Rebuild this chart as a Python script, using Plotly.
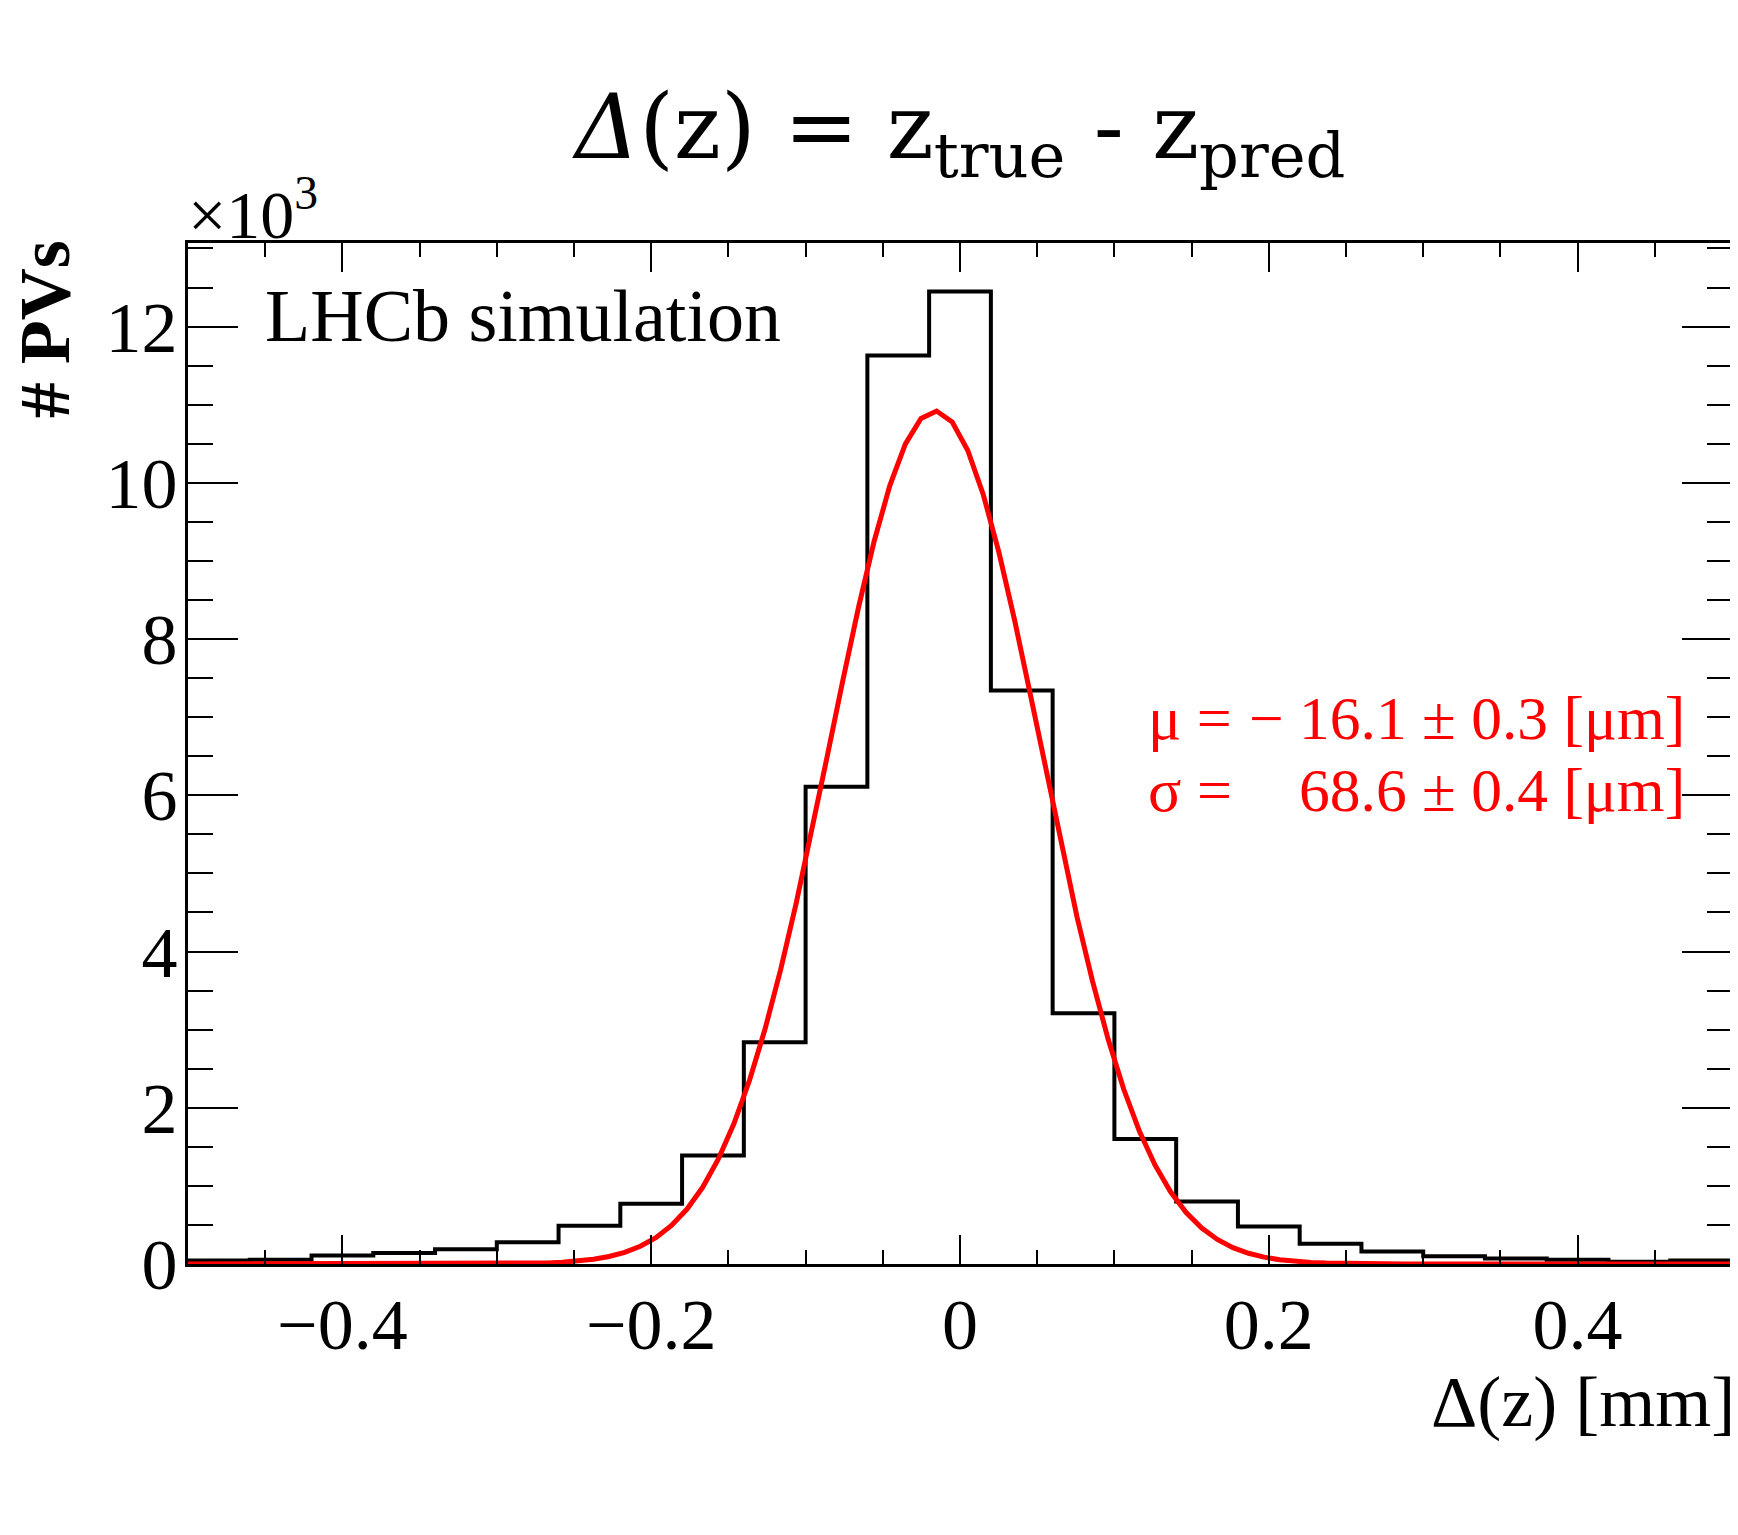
import numpy as np
import plotly.graph_objects as go

# ---------------- data ----------------
# histogram: 25 bins of width 0.04 mm from -0.5 to 0.5 (counts of PVs)
bin_edges_lo = -0.5
bin_width = 0.04
counts = [45, 55, 110, 140, 190, 280, 490, 770, 1390, 2840,
          6110, 11630, 12450, 7340, 3210, 1600, 800, 480, 260, 160,
          100, 70, 55, 30, 45]

# Gaussian fit curve, read at 100 equally spaced points over [-0.5, 0.5] (units of 10^3)
fit_values = [0.0] * 20 + [
    0.0024, 0.0043, 0.0076, 0.0131, 0.0223, 0.0370, 0.0601, 0.0956, 0.1488, 0.2267,
    0.3378, 0.4927, 0.7032, 0.9820, 1.3421, 1.7948, 2.3488, 3.0077, 3.7689, 4.6215,
    5.5455, 6.5114, 7.4816, 8.4120, 9.2552, 9.9646, 10.4982, 10.8232, 10.9190, 10.7793,
    10.4132, 9.8437, 9.1058, 8.2426, 7.3012, 6.3286, 5.3678, 4.4444, 3.6186, 2.8761,
    2.2368, 1.7023, 1.2678, 0.9239, 0.6589, 0.4598, 0.3140, 0.2098, 0.1372, 0.0878,
    0.0550, 0.0337, 0.0202, 0.0119, 0.0068, 0.0038, 0.0021] + [0.0] * 23
fit_x = np.linspace(-0.5, 0.5, 100)

x_ticks = [-0.4, -0.2, 0, 0.2, 0.4]
x_tick_labels = ["−0.4", "−0.2", "0", "0.2", "0.4"]
y_ticks = [0, 2, 4, 6, 8, 10, 12]
x_range = [-0.5, 0.5]
y_range = [0, 13.07]

title_text = "<i>Δ</i>(z) = z<sub>true</sub> - z<sub>pred</sub>"
x_title = "Δ(z) [mm]"
y_title = "# PVs"
label_text = "LHCb simulation"
exp_text = "×10<sup>3</sup>"
mu_lhs, mu_rhs = "μ =", "− 16.1 ± 0.3 [μm]"
sig_lhs, sig_rhs = "σ =", "68.6 ± 0.4 [μm]"

# ---------------- layout geometry (page pixels) ----------------
PAGE_W, PAGE_H = 1738, 1535
BODY = 8                            # default body margin of the html page
L, R, T, B = 188, 1735, 243, 1264   # plot frame in page pixels
FIG_W = PAGE_W - BODY
FIG_H = PAGE_H - 2 * BODY


def px(xp):
    return (xp - L) / (R - L)


def py(yp):
    return (B - yp) / (B - T)


edges = [bin_edges_lo + i * bin_width for i in range(len(counts) + 1)]
hist_y = [c / 1000 for c in counts] + [counts[-1] / 1000]

serif = "Liberation Serif"

fig = go.Figure()
fig.add_trace(go.Scatter(x=edges, y=hist_y, mode="lines", line=dict(shape="hv", color="black", width=4),
                         showlegend=False, hoverinfo="skip"))
fig.add_trace(go.Scatter(x=fit_x, y=fit_values, mode="lines", line=dict(color="#ff0000", width=5),
                         showlegend=False, hoverinfo="skip"))

axis_common = dict(showline=True, linecolor="black", linewidth=3, mirror="allticks",
                   ticks="inside", tickcolor="black", tickwidth=2, showgrid=False, zeroline=False,
                   tickfont=dict(family=serif, size=72, color="black"))

fig.update_xaxes(range=x_range, tickvals=x_ticks, ticktext=x_tick_labels,
                 ticklen=29, minor=dict(dtick=0.05, tick0=0, ticklen=14, ticks="inside",
                                        tickcolor="black", tickwidth=2, showgrid=False),
                 ticklabelstandoff=-4, **axis_common)
fig.update_yaxes(range=y_range, tickvals=y_ticks, ticklen=50,
                 minor=dict(dtick=0.5, tick0=0, ticklen=25, ticks="inside",
                            tickcolor="black", tickwidth=2, showgrid=False),
                 ticklabelstandoff=-7, **axis_common)

ann = []
ann.append(dict(text=title_text, x=px(960), y=py(134), xanchor="center", yanchor="middle",
                font=dict(family="DejaVu Serif", size=89, color="black")))
ann.append(dict(text=x_title, x=px(1740), y=py(1402), xanchor="right", yanchor="middle",
                font=dict(family=serif, size=72, color="black")))
ann.append(dict(text="<b>" + y_title + "</b>", x=px(45), y=py(238), xanchor="center", yanchor="top",
                textangle=-90, font=dict(family=serif, size=72, color="black")))
ann.append(dict(text=label_text, x=px(263), y=py(316), xanchor="left", yanchor="middle",
                font=dict(family=serif, size=74, color="black")))
ann.append(dict(text=exp_text, x=px(186), y=py(210), xanchor="left", yanchor="middle",
                font=dict(family=serif, size=68, color="black")))
ann.append(dict(text=mu_lhs, x=px(1148), y=py(718), xanchor="left", yanchor="middle",
                font=dict(family=serif, size=62, color="#ff0000")))
ann.append(dict(text=mu_rhs, x=px(1690), y=py(718), xanchor="right", yanchor="middle",
                font=dict(family=serif, size=61.5, color="#ff0000")))
ann.append(dict(text=sig_lhs, x=px(1148), y=py(790), xanchor="left", yanchor="middle",
                font=dict(family=serif, size=62, color="#ff0000")))
ann.append(dict(text=sig_rhs, x=px(1690), y=py(790), xanchor="right", yanchor="middle",
                font=dict(family=serif, size=61.5, color="#ff0000")))
for a in ann:
    a.update(xref="paper", yref="paper", showarrow=False)

fig.update_layout(width=FIG_W, height=FIG_H,
                  margin=dict(l=L - BODY, r=PAGE_W - R, t=T - BODY, b=FIG_H - (B - BODY)),
                  paper_bgcolor="white", plot_bgcolor="white", annotations=ann,
                  font=dict(family=serif, color="black"))

fig.write_html("out.html")
